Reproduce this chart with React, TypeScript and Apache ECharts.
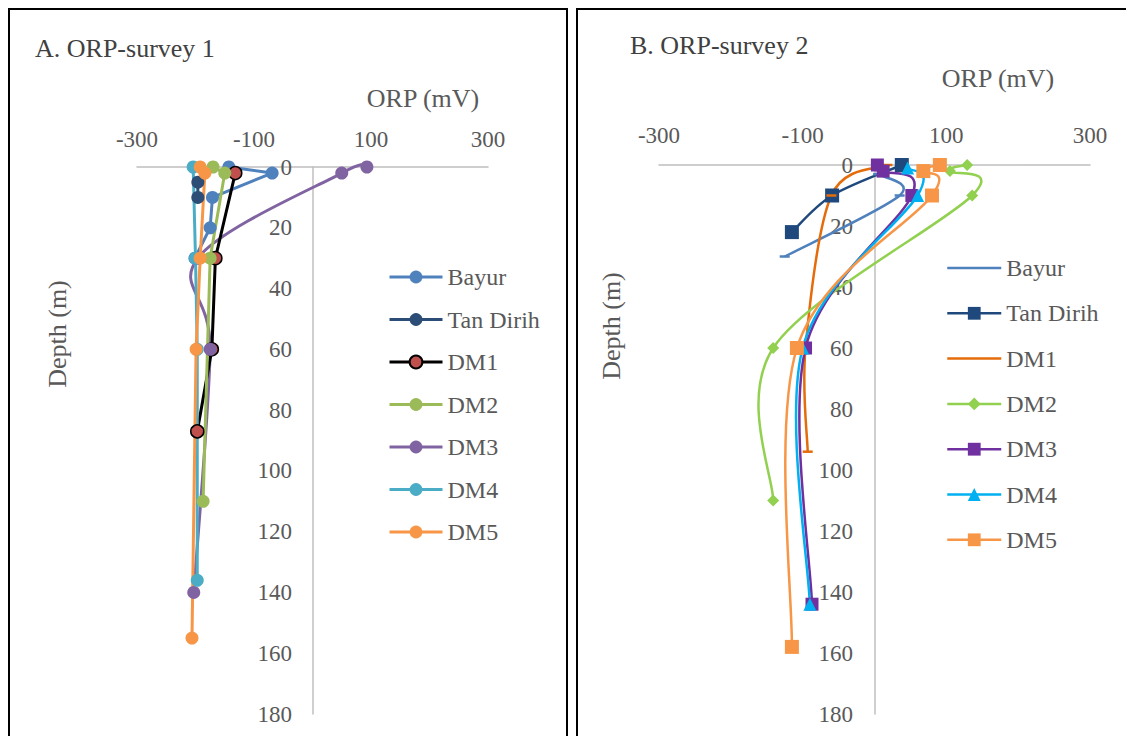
import React, { useEffect, useRef } from "react";
import * as echarts from "echarts";

const W = 1126;
const H = 736;
const FONT = "'Liberation Serif', 'Times New Roman', Times, 'DejaVu Serif', serif";
const GREY = "#595959";
const AXIS = "#BFBFBF";

// ---------- Panel A (survey 1) ----------
const aBayurOrp = [-143, -69, -171, -175, -201];
const aBayurDepth = [0, 2, 10, 20, 30];
const aTanOrp = [-196, -196];
const aTanDepth = [5, 10];
const aDM1Orp = [-132, -166, -172, -197];
const aDM1Depth = [2, 30, 60, 87];
const aDM2Orp = [-170, -150, -175, -187];
const aDM2Depth = [0, 2, 30, 110];
const aDM3Orp = [93, 50, -196, -175, -203];
const aDM3Depth = [0, 2, 30, 60, 140];
const aDM4Orp = [-204, -200, -197, -197];
const aDM4Depth = [0, 30, 60, 136];
const aDM5Orp = [-192, -184, -192, -199, -206];
const aDM5Depth = [0, 2, 30, 60, 155];

// ---------- Panel B (survey 2) ----------
const bBayurOrp = [5, 35, -125];
const bBayurDepth = [3, 10, 30];
const bTanOrp = [38, -59, -115];
const bTanDepth = [0, 10, 22];
const bDM1Orp = [18, -60, -96, -93];
const bDM1Depth = [0, 10, 60, 94];
const bDM2Orp = [129, 105, 136, -141, -141];
const bDM2Depth = [0, 2, 10, 60, 110];
const bDM3Orp = [4, 12, 52, -96, -87];
const bDM3Depth = [0, 2, 10, 60, 144];
const bDM4Orp = [46, 60, -100, -90];
const bDM4Depth = [1, 10, 60, 144];
const bDM5Orp = [91, 68, 80, -108, -115];
const bDM5Depth = [0, 2, 10, 60, 158];

const seriesNames = ["Bayur", "Tan Dirih", "DM1", "DM2", "DM3", "DM4", "DM5"];
const bNoMarker = ["Bayur", "DM1"];
const xTicks = { min: -300, max: 300, interval: 200 };
const yTicks = { min: 0, max: 180, interval: 20 };

const pairs = (orp: number[], depth: number[]) => orp.map((x, i) => [x, depth[i]]);
const dashPairs = (orp: number[], depth: number[]) =>
  orp.map((x, i) => ({ value: [x, depth[i]], symbol: "rect", symbolSize: [10, 2.5] }));

const tick = { fontFamily: FONT, fontSize: 23, color: GREY };

function axes(left: number, right: number, top: number, bottom: number, xMargin: number, yLabelRight: number) {
  return {
    grid: { left, right: W - right, top, bottom: H - bottom },
    xAxis: {
      type: "value",
      position: "top",
      ...xTicks,
      axisLine: { show: true, onZero: false, lineStyle: { color: AXIS, width: 1.5 } },
      axisTick: { show: false },
      splitLine: { show: false },
      axisLabel: { ...tick, margin: xMargin },
    },
    yAxis: {
      type: "value",
      inverse: true,
      ...yTicks,
      axisLine: { show: true, onZero: true, lineStyle: { color: AXIS, width: 1.5 } },
      axisTick: { show: false },
      splitLine: { show: false },
      axisLabel: { ...tick, margin: left - yLabelRight },
    },
  };
}

function label(text: string, x: number, y: number, opts: any = {}) {
  return {
    type: "text",
    x,
    y,
    rotation: opts.rotation || 0,
    style: {
      text,
      fill: opts.fill || GREY,
      font: `${opts.size || 26}px ${FONT}`,
      align: opts.align || "center",
      verticalAlign: "middle",
    },
  };
}

// Excel-like smoothed curve (Catmull-Rom -> cubic Bezier) drawn in pixel space
function smoothPath(pts: number[][]): string {
  let d = `M${pts[0][0]},${pts[0][1]}`;
  for (let i = 0; i < pts.length - 1; i++) {
    const p0 = pts[i - 1] || pts[i];
    const p1 = pts[i];
    const p2 = pts[i + 1];
    const p3 = pts[i + 2] || pts[i + 1];
    const c1x = p1[0] + (p2[0] - p0[0]) / 6;
    const c1y = p1[1] + (p2[1] - p0[1]) / 6;
    const c2x = p2[0] - (p3[0] - p1[0]) / 6;
    const c2y = p2[1] - (p3[1] - p1[1]) / 6;
    d += ` C${c1x},${c1y} ${c2x},${c2y} ${p2[0]},${p2[1]}`;
  }
  return d;
}

function curveSeries(name: string, pts: number[][], color: string, width: number) {
  return {
    type: "custom",
    name: "curve-" + name,
    data: pts,
    encode: { x: 0, y: 1 },
    silent: true,
    renderItem: (params: any, api: any) => {
      if (params.dataIndex !== 0) return null;
      const px = pts.map((p) => api.coord(p));
      return {
        type: "path",
        shape: { pathData: smoothPath(px) },
        style: { stroke: color, lineWidth: width, fill: null },
      };
    },
  };
}

function markSeries(name: string, data: any[], color: string, extra: any = {}) {
  return {
    type: "line",
    name,
    data,
    symbol: "circle",
    symbolSize: 13,
    lineStyle: { width: 3, color },
    itemStyle: { color },
    smooth: false,
    ...extra,
  };
}

// smoothed series: curve + markers (line hidden, legend keeps line)
function smoothed(name: string, orp: number[], depth: number[], color: string, width: number, extra: any = {}, dash = false) {
  const pts = pairs(orp, depth);
  return [
    curveSeries(name, pts, color, width),
    markSeries(name, dash ? dashPairs(orp, depth) : pts, color, {
      lineStyle: { width, color, opacity: 0 },
      ...extra,
    }),
  ];
}

function legend(left: number, top: number, gap: number, width: number, lineWidth: number, noMarker: string[] = []) {
  return {
    orient: "vertical",
    left,
    top,
    padding: 0,
    itemWidth: width,
    itemHeight: 16,
    itemGap: gap,
    data: seriesNames.map((n) => (noMarker.includes(n) ? { name: n, itemStyle: { opacity: 0 } } : n)),
    lineStyle: { width: lineWidth, opacity: 1 },
    textStyle: { fontFamily: FONT, fontSize: 24, color: GREY },
  };
}

function optionA() {
  return {
    animation: false,
    ...axes(137, 488, 167, 714, 16, 292),
    legend: legend(388, 265, 18.5, 53, 3),
    graphic: [
      label("A. ORP-survey 1", 35, 48, { align: "left", fill: "#404040" }),
      label("ORP (mV)", 423, 98),
      label("Depth (m)", 57, 334, { rotation: Math.PI / 2 }),
    ],
    series: [
      markSeries("Bayur", pairs(aBayurOrp, aBayurDepth), "#4F81BD"),
      markSeries("Tan Dirih", pairs(aTanOrp, aTanDepth), "#2C4D75"),
      markSeries("DM1", pairs(aDM1Orp, aDM1Depth), "#000000", {
        itemStyle: { color: "#C0504D", borderColor: "#000000", borderWidth: 1.5 },
      }),
      markSeries("DM2", pairs(aDM2Orp, aDM2Depth), "#9BBB59"),
      ...smoothed("DM3", aDM3Orp, aDM3Depth, "#8064A2", 3),
      markSeries("DM4", pairs(aDM4Orp, aDM4Depth), "#4BACC6"),
      markSeries("DM5", pairs(aDM5Orp, aDM5Depth), "#F79646"),
    ],
  };
}

function optionB() {
  return {
    animation: false,
    ...axes(659, 1090, 165, 714, 18, 853),
    legend: legend(946, 256, 21.3, 54, 2.5, bNoMarker),
    graphic: [
      label("B. ORP-survey 2", 630, 45, { align: "left", fill: "#404040" }),
      label("ORP (mV)", 998, 78),
      label("Depth (m)", 611, 326, { rotation: Math.PI / 2 }),
    ],
    series: [
      ...smoothed("Bayur", bBayurOrp, bBayurDepth, "#4F81BD", 2.5, { symbol: "none" }, true),
      ...smoothed("Tan Dirih", bTanOrp, bTanDepth, "#1F497D", 2.5, { symbol: "rect", symbolSize: 14 }),
      ...smoothed("DM1", bDM1Orp, bDM1Depth, "#E46C0A", 2.5, { symbol: "none" }, true),
      ...smoothed("DM2", bDM2Orp, bDM2Depth, "#92D050", 2.5, { symbol: "diamond", symbolSize: 12 }),
      ...smoothed("DM3", bDM3Orp, bDM3Depth, "#7030A0", 2.5, { symbol: "rect", symbolSize: 13 }),
      ...smoothed("DM4", bDM4Orp, bDM4Depth, "#00B0F0", 2.5, { symbol: "triangle", symbolSize: 13 }),
      ...smoothed("DM5", bDM5Orp, bDM5Depth, "#F79646", 2.5, { symbol: "rect", symbolSize: 14 }),
    ],
  };
}

export default function App() {
  const refA = useRef<HTMLDivElement>(null);
  const refB = useRef<HTMLDivElement>(null);

  useEffect(() => {
    document.body.style.margin = "0";
    const a = echarts.init(refA.current!, null, { renderer: "svg" });
    const b = echarts.init(refB.current!, null, { renderer: "svg" });
    a.setOption(optionA() as any);
    b.setOption(optionB() as any);
    return () => {
      a.dispose();
      b.dispose();
    };
  }, []);

  const layer: React.CSSProperties = { position: "absolute", left: 0, top: 0, width: W, height: H };
  return (
    <div style={{ position: "relative", width: W, height: H, overflow: "hidden", background: "#fff" }}>
      <div style={{ position: "absolute", left: 8, top: 8, width: 560, height: 780, border: "2.5px solid #000", boxSizing: "border-box" }} />
      <div style={{ position: "absolute", left: 576, top: 8, width: 580, height: 780, border: "2.5px solid #000", boxSizing: "border-box" }} />
      <div ref={refA} style={layer} />
      <div ref={refB} style={layer} />
    </div>
  );
}
